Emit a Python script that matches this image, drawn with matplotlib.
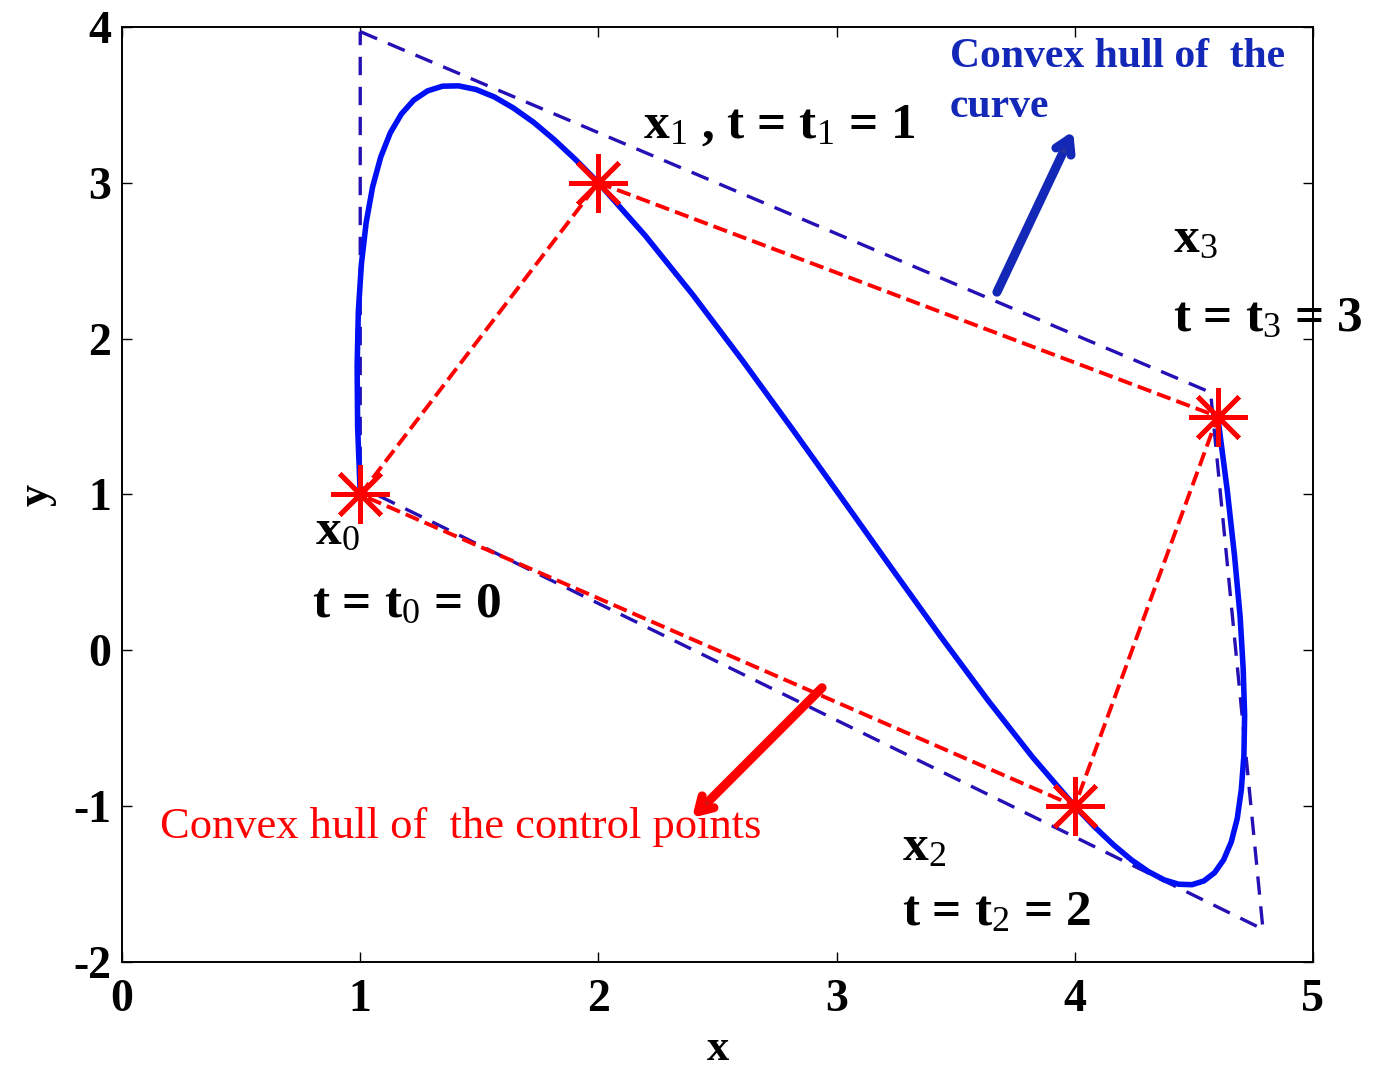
import matplotlib
matplotlib.use("Agg")
import matplotlib.pyplot as plt
import matplotlib.patheffects as pe

plt.rcParams["font.family"] = ["Liberation Serif", "DejaVu Serif"]
plt.rcParams["mathtext.fontset"] = "custom"
plt.rcParams["mathtext.rm"] = "Liberation Serif"
plt.rcParams["mathtext.it"] = "Liberation Serif"
plt.rcParams["mathtext.bf"] = "Liberation Serif:bold"
plt.rcParams["axes.unicode_minus"] = False

# control points x0..x3 at t = 0, 1, 2, 3
ctrl_x = [1.0, 2.0, 4.0, 4.6]
ctrl_y = [1.0, 3.0, -1.0, 1.5]
poly_order = [0, 1, 3, 2, 0]

# curve through the control points (sampled)
curve_x = [1.0, 0.989, 0.987, 0.992, 1.005, 1.025, 1.052, 1.086, 1.126, 1.173,
           1.225, 1.283, 1.346, 1.413, 1.486, 1.563, 1.643, 1.728, 1.815, 1.906,
           2.0, 2.195, 2.397, 2.604, 2.814, 3.025, 3.234, 3.438, 3.635, 3.823,
           4.0, 4.083, 4.163, 4.238, 4.309, 4.375, 4.436, 4.492, 4.542, 4.587,
           4.625, 4.657, 4.682, 4.699, 4.710, 4.713, 4.707, 4.694, 4.671, 4.640, 4.6]
curve_y = [1.0, 1.435, 1.826, 2.174, 2.48, 2.746, 2.974, 3.165, 3.32, 3.442,
           3.531, 3.590, 3.62, 3.622, 3.599, 3.551, 3.48, 3.388, 3.276, 3.146,
           3.0, 2.664, 2.28, 1.861, 1.42, 0.969, 0.52, 0.086, -0.32, -0.686,
           -1.0, -1.133, -1.249, -1.345, -1.42, -1.473, -1.501, -1.504, -1.48, -1.427,
           -1.344, -1.229, -1.08, -0.896, -0.676, -0.418, -0.12, 0.219, 0.601, 1.028, 1.5]

# hull of the curve
hull_x = [1.0, 4.57, 4.79, 1.0, 1.0]
hull_y = [3.97, 1.655, -1.79, 1.05, 3.97]

xticks = [0, 1, 2, 3, 4, 5]
yticks = [-2, -1, 0, 1, 2, 3, 4]

RED = "#ff0000"
BLUE = "#0010f5"
HULL = "#2410b4"
ARROW_BLUE = "#1428b8"

fig = plt.figure(figsize=(13.76, 10.74), dpi=100)
ax = fig.add_axes([0.0887, 0.1043, 0.8655, 0.8706])

ax.plot(hull_x, hull_y, color=HULL, lw=2.4, dashes=(5.5, 3.5), zorder=2)
ax.plot(curve_x, curve_y, color=BLUE, lw=4, solid_joinstyle="round", zorder=3)
ax.plot([ctrl_x[i] for i in poly_order], [ctrl_y[i] for i in poly_order],
        color=RED, lw=2.8, ls="--", zorder=4)
ax.plot(ctrl_x, ctrl_y, ls="none", marker=(8, 2, 0), ms=42, mew=3.5,
        color=RED, zorder=5)

ax.set_xlim(0, 5)
ax.set_ylim(-2, 4)
ax.set_xticks(xticks)
ax.set_yticks(yticks)
ax.tick_params(direction="in", length=7, width=1, top=True, right=True,
               labelsize=33)
ax.tick_params(axis="x", pad=12)
ax.tick_params(axis="y", pad=8)
for lab in ax.get_xticklabels() + ax.get_yticklabels():
    lab.set_fontweight("bold")
for s in ax.spines.values():
    s.set_linewidth(1.4)
ax.set_xlabel("x", fontsize=32, fontweight="bold", labelpad=6)
ax.set_ylabel("y", fontsize=32, fontweight="bold", labelpad=12)

lbl = dict(fontsize=37, fontweight="bold", color="black", ha="left", va="baseline")
ax.text(2.187, 3.293, r"x$_1$ , t = t$_1$ = 1", **lbl)
ax.text(4.412, 2.555, r"x$_3$", **lbl)
ax.text(4.412, 2.047, r"t = t$_3$ = 3", **lbl)
ax.text(0.81, 0.679, r"x$_0$", **lbl)
ax.text(0.798, 0.216, r"t = t$_0$ = 0", **lbl)
ax.text(3.275, -1.345, r"x$_2$", **lbl)
ax.text(3.275, -1.762, r"t = t$_2$ = 2", **lbl)

ax.text(3.476, 3.743, "Convex hull of  the", fontsize=30, fontweight="bold",
        color=ARROW_BLUE, ha="left", va="baseline")
ax.text(3.476, 3.42, "curve", fontsize=30, fontweight="bold",
        color=ARROW_BLUE, ha="left", va="baseline")
ax.text(0.16, -1.203, "Convex hull of  the control points", fontsize=32,
        color=RED, ha="left", va="baseline")

shadow = [pe.SimplePatchShadow(offset=(2, -2), alpha=0.25), pe.Normal()]
ax.annotate("", xy=(3.993, 3.332), xytext=(3.673, 2.298),
            arrowprops=dict(arrowstyle="->,head_length=1.0,head_width=0.6",
                            color=ARROW_BLUE, lw=6.5, shrinkA=0, shrinkB=0,
                            path_effects=shadow), zorder=6)
ax.annotate("", xy=(2.393, -1.075), xytext=(2.939, -0.24),
            arrowprops=dict(arrowstyle="->,head_length=1.0,head_width=0.6",
                            color=RED, lw=6.5, shrinkA=0, shrinkB=0,
                            path_effects=shadow), zorder=6)

fig.savefig("out.png", dpi=100)
